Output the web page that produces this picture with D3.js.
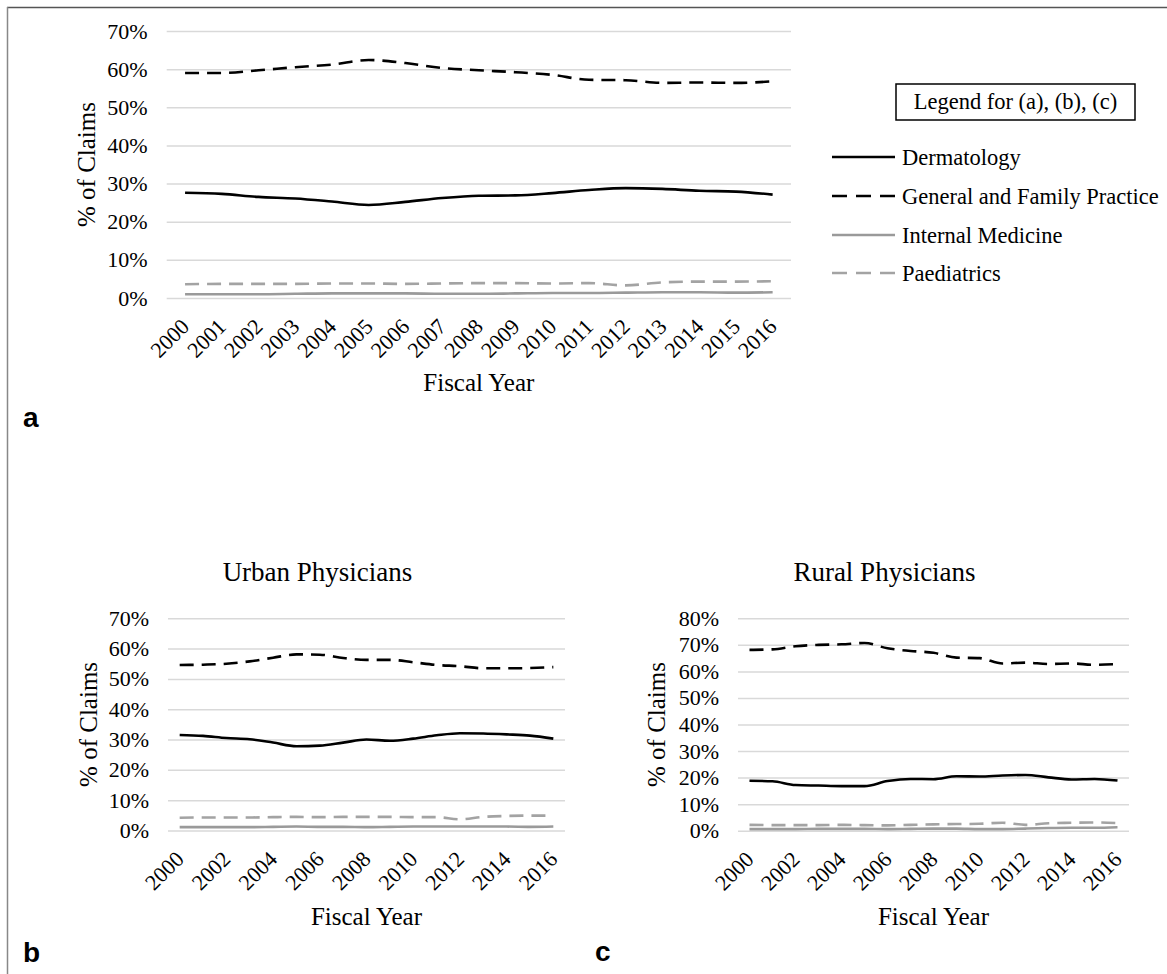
<!DOCTYPE html>
<html><head><meta charset="utf-8">
<script src="https://cdn.jsdelivr.net/npm/d3@7"></script>
<style>
body{margin:0;background:#fff}
svg{display:block}
text{font-family:"Liberation Serif","Times New Roman",serif;fill:#000}
</style>
</head><body>
<svg id="fig" width="1167" height="974"></svg>
<script>
// ---------- data ----------
const years = [2000,2001,2002,2003,2004,2005,2006,2007,2008,2009,2010,2011,2012,2013,2014,2015,2016];
const evenYears = [2000,2002,2004,2006,2008,2010,2012,2014,2016];
const seriesNames = ["Dermatology","General and Family Practice","Internal Medicine","Paediatrics"];
const yTicks70 = [0,10,20,30,40,50,60,70];
const yTicks80 = [0,10,20,30,40,50,60,70,80];

// (a) all physicians
const allDerm = [27.6,27.3,26.5,26.1,25.3,24.4,25.2,26.2,26.8,26.9,27.5,28.3,28.8,28.6,28.1,27.9,27.1];
const allGFP  = [59.0,59.0,59.7,60.5,61.2,62.4,61.6,60.3,59.7,59.2,58.5,57.2,57.1,56.4,56.5,56.4,56.8];
const allIM   = [1.0,1.0,1.0,1.1,1.2,1.2,1.2,1.1,1.1,1.2,1.3,1.3,1.4,1.5,1.5,1.4,1.5];
const allPaed = [3.6,3.7,3.7,3.7,3.8,3.8,3.7,3.8,3.9,3.9,3.8,3.9,3.3,4.1,4.3,4.3,4.4];

// (b) urban physicians
const urbDerm = [31.5,31.2,30.5,30.1,29.0,27.8,28.0,29.0,30.0,29.6,30.3,31.4,32.1,32.0,31.7,31.3,30.3];
const urbGFP  = [54.6,54.7,55.0,55.8,57.0,58.1,58.0,56.9,56.3,56.3,55.5,54.6,54.2,53.5,53.5,53.6,53.9];
const urbIM   = [1.1,1.1,1.1,1.1,1.2,1.3,1.2,1.2,1.1,1.2,1.3,1.3,1.3,1.3,1.3,1.2,1.3];
const urbPaed = [4.2,4.3,4.3,4.3,4.4,4.5,4.4,4.5,4.5,4.5,4.4,4.4,3.7,4.5,4.8,4.9,4.9];

// (c) rural physicians
const rurDerm = [18.8,18.6,17.2,17.0,16.8,16.8,18.7,19.5,19.4,20.5,20.4,20.8,21.0,20.1,19.3,19.5,18.9];
const rurGFP  = [68.1,68.3,69.5,70.0,70.2,70.7,68.7,67.7,67.0,65.2,65.0,63.0,63.3,62.8,63.0,62.5,62.8];
const rurIM   = [0.6,0.6,0.6,0.7,0.7,0.7,0.6,0.7,0.8,0.8,0.6,0.6,0.8,1.0,1.1,1.1,1.3];
const rurPaed = [2.2,2.1,2.1,2.1,2.2,2.1,2.0,2.2,2.4,2.5,2.6,3.0,2.2,2.8,3.0,3.1,2.9];

// ---------- styles ----------
const styles = [
  {color:"#000000", dash:null,   width:2.6},
  {color:"#000000", dash:"14,8", width:2.6},
  {color:"#9a9a9a", dash:null,   width:2.6},
  {color:"#a3a3a3", dash:"14,8", width:2.6}
];

const svg = d3.select("#fig");

// figure frame
svg.append("line").attr("x1",7).attr("y1",7.5).attr("x2",1167).attr("y2",7.5).attr("stroke","#555").attr("stroke-width",1.5);
svg.append("line").attr("x1",7.5).attr("y1",7).attr("x2",7.5).attr("y2",974).attr("stroke","#888").attr("stroke-width",1.5);

const panels = [
  {left:166.7,right:791,top:31,bottom:298,ticks:yTicks70,xTicks:years,
   series:[allDerm,allGFP,allIM,allPaed],title:null,yTitleX:95,fyBase:391},
  {left:168,right:565,top:618.3,bottom:830.5,ticks:yTicks70,xTicks:evenYears,
   series:[urbDerm,urbGFP,urbIM,urbPaed],title:"Urban Physicians",yTitleX:97,fyBase:925},
  {left:738,right:1129,top:618.3,bottom:830.7,ticks:yTicks80,xTicks:evenYears,
   series:[rurDerm,rurGFP,rurIM,rurPaed],title:"Rural Physicians",yTitleX:665,fyBase:925}
];

panels.forEach(p => {
  const x = d3.scalePoint().domain(years).range([p.left,p.right]).padding(0.5);
  const y = d3.scaleLinear().domain([0, d3.max(p.ticks)]).range([p.bottom,p.top]);
  const w = p.right - p.left;

  // y axis + gridlines
  const gy = svg.append("g").attr("transform",`translate(${p.left},0)`)
    .call(d3.axisLeft(y).tickValues(p.ticks).tickSize(-w).tickPadding(19).tickFormat(d => d + "%"));
  gy.select(".domain").remove();
  gy.selectAll(".tick line").attr("stroke","#d9d9d9").attr("stroke-width",1.5);
  gy.selectAll(".tick text").attr("font-size",22).attr("font-family","Liberation Serif").attr("fill","#000");

  // x axis labels
  const gx = svg.append("g").attr("transform",`translate(0,${p.bottom})`)
    .call(d3.axisBottom(x).tickValues(p.xTicks).tickSize(0));
  gx.select(".domain").remove();
  gx.selectAll(".tick text")
    .attr("font-size",22).attr("font-family","Liberation Serif").attr("fill","#000")
    .attr("text-anchor","end").attr("x",0).attr("y",0).attr("dy",0)
    .attr("transform","translate(5,30) rotate(-45)");

  // lines
  p.series.forEach((vals,i) => {
    const st = styles[i];
    const line = d3.line().x((d,j) => x(years[j])).y(d => y(d)).curve(d3.curveMonotoneX);
    svg.append("path").datum(vals).attr("d",line)
      .attr("fill","none").attr("stroke",st.color).attr("stroke-width",st.width)
      .attr("stroke-dasharray",st.dash).attr("stroke-linejoin","round");
  });

  // axis titles
  svg.append("text").attr("x",(p.left+p.right)/2).attr("y",p.fyBase)
    .attr("text-anchor","middle").attr("font-size",25).text("Fiscal Year");
  svg.append("text").attr("transform",`translate(${p.yTitleX},${(p.top+p.bottom)/2}) rotate(-90)`)
    .attr("text-anchor","middle").attr("font-size",25).text("% of Claims");
  if (p.title) {
    svg.append("text").attr("x",(p.left+p.right)/2 - 49).attr("y",581)
      .attr("text-anchor","middle").attr("font-size",27).text(p.title);
  }
});

// legend
const lg = svg.append("g");
lg.append("rect").attr("x",896).attr("y",84).attr("width",239).attr("height",36)
  .attr("fill","none").attr("stroke","#000").attr("stroke-width",1.5);
lg.append("text").attr("x",1015.5).attr("y",109).attr("text-anchor","middle")
  .attr("font-size",22.5).text("Legend for (a), (b), (c)");
const legY = [157,196,235,273];
seriesNames.forEach((name,i) => {
  const st = styles[i];
  lg.append("line").attr("x1",832).attr("x2",895).attr("y1",legY[i]).attr("y2",legY[i])
    .attr("stroke",st.color).attr("stroke-width",st.width).attr("stroke-dasharray",st.dash ? "15,9" : null);
  lg.append("text").attr("x",902).attr("y",legY[i]).attr("dy","0.35em")
    .attr("font-size",22.5).text(name);
});

// panel letters
const letters = [{t:"a",x:23,y:427},{t:"b",x:23,y:962},{t:"c",x:595,y:961}];
letters.forEach(l => svg.append("text").attr("x",l.x).attr("y",l.y)
  .style("font-family","'Liberation Sans', Arial, sans-serif")
  .attr("font-weight","bold").attr("font-size",28).text(l.t));
</script>
</body></html>
